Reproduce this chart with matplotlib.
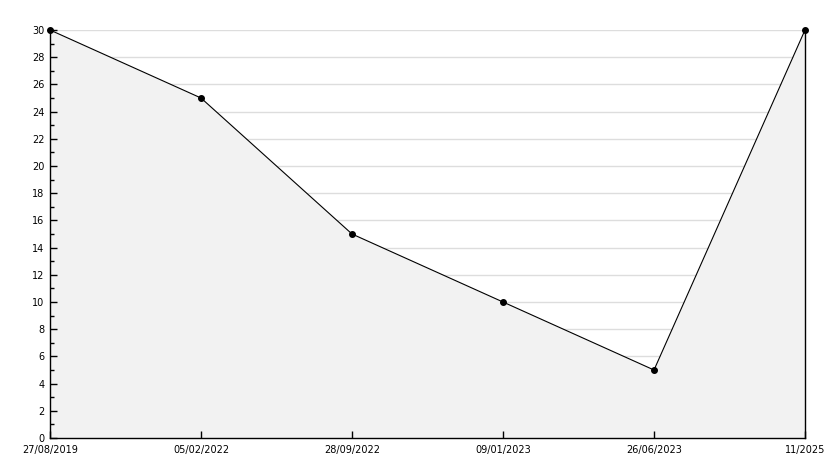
import matplotlib
matplotlib.use("Agg")
import matplotlib.pyplot as plt
from matplotlib.ticker import MultipleLocator

dates = ["27/08/2019", "05/02/2022", "28/09/2022", "09/01/2023", "26/06/2023", "11/2025"]
values = [30, 25, 15, 10, 5, 30]

fig = plt.figure(figsize=(8.34, 4.68), dpi=100)
ax = fig.add_axes([50 / 834, 1 - 438 / 468, 755 / 834, 408 / 468])

x = list(range(len(dates)))

# light grid first, the filled area covers it below the line
for yv in range(2, 31, 2):
    ax.axhline(yv, color="#dddddd", linewidth=1, zorder=1)

ax.fill_between(x, values, 0, color="#f2f2f2", zorder=2, linewidth=0)
ax.plot(x, values, color="black", linewidth=0.8, marker="o", markersize=4,
        zorder=5, clip_on=False)

ax.set_xlim(0, len(dates) - 1)
ax.set_ylim(0, 30)
ax.set_xticks(x)
ax.set_xticklabels(dates)
ax.yaxis.set_major_locator(MultipleLocator(2))
ax.yaxis.set_minor_locator(MultipleLocator(1))
ax.set_axisbelow(False)

ax.spines["top"].set_visible(False)
for side in ["left", "bottom", "right"]:
    ax.spines[side].set_linewidth(1)
    ax.spines[side].set_zorder(4)

ax.tick_params(axis="both", which="major", direction="in", length=5, width=1, labelsize=7)
ax.tick_params(axis="y", which="minor", direction="in", length=3, width=1)
ax.tick_params(axis="y", pad=4)
ax.tick_params(axis="x", pad=5)

fig.savefig("out.png", dpi=100)
